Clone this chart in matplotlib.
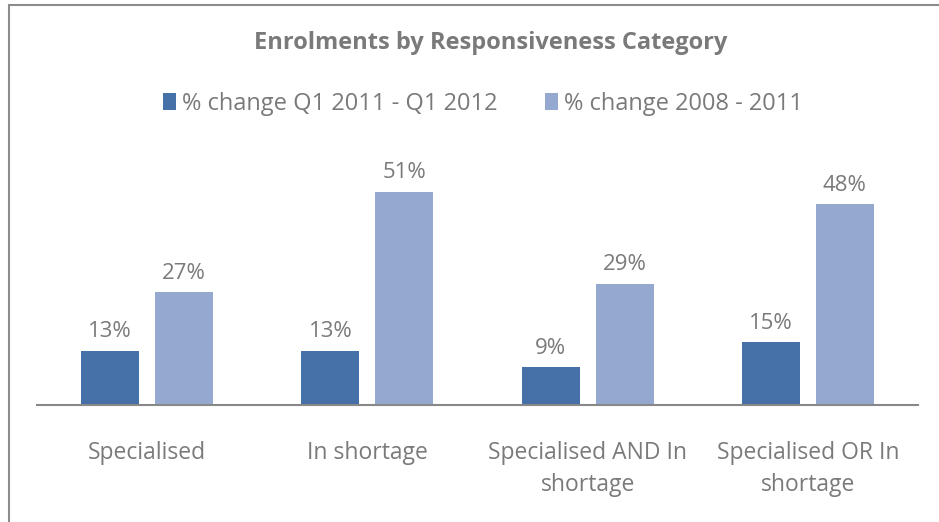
import numpy as np
import matplotlib.pyplot as plt
from matplotlib.patches import Rectangle

categories = ['Specialised', 'In shortage', 'Specialised AND In\nshortage', 'Specialised OR In\nshortage']
change_q1 = [13, 13, 9, 15]
change_0811 = [27, 51, 29, 48]
series_names = ['% change Q1 2011 - Q1 2012', '% change 2008 - 2011']

dark = '#4571A8'
light = '#95A9D0'
grey = '#7a7a7a'

plt.rcParams['font.family'] = ['Open Sans', 'DejaVu Sans']

fig = plt.figure(figsize=(9.39, 5.22), dpi=100)
ax = fig.add_axes([37 / 939, 117 / 522, 881 / 939, 255 / 522])

x = np.arange(len(categories))
w = 0.264
off = 0.168
b1 = ax.bar(x - off, change_q1, w, color=dark, label=series_names[0])
b2 = ax.bar(x + off, change_0811, w, color=light, label=series_names[1])

for bars, vals in ((b1, change_q1), (b2, change_0811)):
    for rect, v in zip(bars, vals):
        ax.annotate(f'{v}%', (rect.get_x() + rect.get_width() / 2, v),
                    xytext=(0, 6), textcoords='offset points',
                    ha='center', va='bottom', fontsize=16, color=grey)

ax.set_xlim(-0.5, len(categories) - 0.5)
ax.set_ylim(0, 61)
ax.set_yticks([])
ax.set_xticks(x)
ax.set_xticklabels(categories, fontsize=16.5, color=grey, linespacing=1.45)
ax.tick_params(axis='x', length=0, pad=26)
for s in ('top', 'right', 'left'):
    ax.spines[s].set_visible(False)
ax.spines['bottom'].set_color('#888888')
ax.spines['bottom'].set_linewidth(1.5)

fig.text(491 / 939, 1 - 43 / 522, 'Enrolments by Responsiveness Category',
         ha='center', va='center', fontsize=17, fontweight='bold', color=grey)

fig.legend(handles=[b1, b2], loc='center', bbox_to_anchor=(483 / 939, 1 - 104 / 522),
           ncol=2, frameon=False, fontsize=17, labelcolor=grey,
           handlelength=0.55, handleheight=0.7, handletextpad=0.25, columnspacing=2.0)

# outer chart frame
fig.add_artist(Rectangle((9 / 939, -0.1), 1.2, (517 / 522) + 0.1, transform=fig.transFigure,
                         fill=False, edgecolor='#8c8c8c', linewidth=1.5))

fig.savefig('out.png', dpi=100)
